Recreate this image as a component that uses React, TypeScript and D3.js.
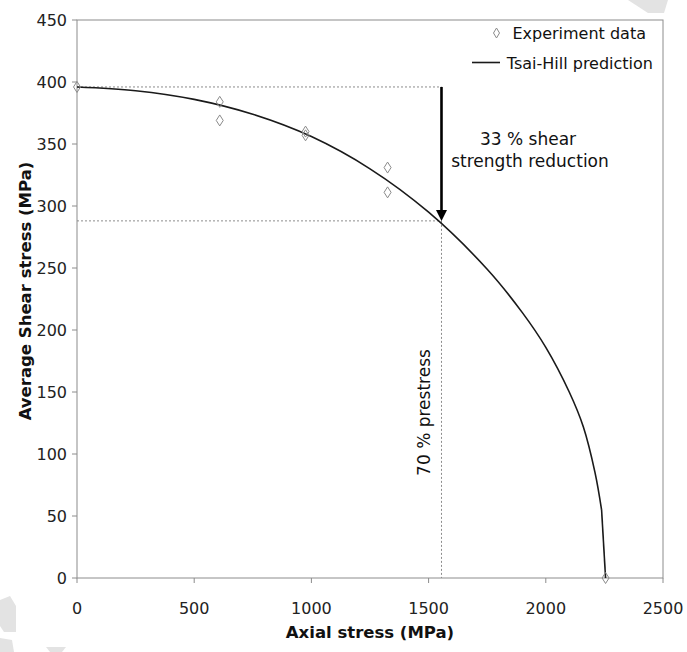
import React from "react";
import * as d3 from "d3";

// Experiment data (axial stress MPa, average shear stress MPa)
const expAxial = [0, 609, 609, 975, 975, 1325, 1325, 2255];
const expShear = [396, 384, 369, 360, 357, 331, 311, 0];

// Tsai-Hill prediction curve
const predAxial = [0, 250, 500, 750, 1000, 1250, 1500, 1750, 1900, 2000, 2100, 2160, 2210, 2238, 2255];
const predShear = [396, 393, 386, 374, 356, 330, 295, 249, 214, 186, 150, 122, 85, 55, 0];

const xTicks = [0, 500, 1000, 1500, 2000, 2500];
const yTicks = [0, 50, 100, 150, 200, 250, 300, 350, 400, 450];

const prestressAxial = 1555;
const shearTop = 396;
const shearReduced = 288;

const W = 687;
const H = 652;
const left = 77;
const right = 663;
const top = 20;
const bottom = 578;

const FONT = "'DejaVu Sans', Verdana, sans-serif";

export default function App() {
  const x = d3.scaleLinear().domain([0, 2500]).range([left, right]);
  const y = d3.scaleLinear().domain([0, 450]).range([bottom, top]);

  const pts: [number, number][] = predAxial.map((a, i) => [a, predShear[i]]);
  const smoothPts = pts.slice(0, pts.length - 1);
  const line = d3
    .line<[number, number]>()
    .x((d) => x(d[0]))
    .y((d) => y(d[1]))
    .curve(d3.curveCatmullRom.alpha(0.5));
  const tail = d3
    .line<[number, number]>()
    .x((d) => x(d[0]))
    .y((d) => y(d[1]));

  const diamond = (cx: number, cy: number, hw = 3.5, hh = 5.5) =>
    `M${cx},${cy - hh}L${cx + hw},${cy}L${cx},${cy + hh}L${cx - hw},${cy}Z`;

  const axisColor = "#8c8c8c";
  const ax = x(prestressAxial);

  return (
    <svg
      width={W}
      height={H}
      style={{ position: "absolute", left: 0, top: 0, background: "#fff" }}
      fontFamily={FONT}
    >
      <rect x={0} y={0} width={W} height={H} fill="#fff" />
      {/* watermark fragments */}
      <g fill="#e3e3e3">
        <polygon points="628,0 668,0 664,13 648,13" />
        <polygon points="0,600 10,596 16,606 16,632 4,632 0,626" />
        <polygon points="0,638 12,640 14,652 0,652" />
        <polygon points="46,647 66,647 62,652 50,652" />
      </g>

      {/* plot border */}
      <rect
        x={left}
        y={top}
        width={right - left}
        height={bottom - top}
        fill="none"
        stroke={axisColor}
        strokeWidth={1}
      />

      {/* y ticks */}
      {yTicks.map((t) => (
        <g key={"y" + t}>
          <line x1={left - 5} x2={left} y1={y(t)} y2={y(t)} stroke={axisColor} />
          <text
            x={67}
            y={y(t)}
            dy="0.36em"
            textAnchor="end"
            fontSize={16}
            fill="#222"
          >
            {t}
          </text>
        </g>
      ))}
      {/* x ticks */}
      {xTicks.map((t) => (
        <g key={"x" + t}>
          <line x1={x(t)} x2={x(t)} y1={bottom} y2={bottom + 5} stroke={axisColor} />
          <text x={x(t)} y={614} textAnchor="middle" fontSize={16} fill="#222">
            {t}
          </text>
        </g>
      ))}

      {/* axis titles */}
      <text
        x={(left + right) / 2}
        y={638}
        textAnchor="middle"
        fontSize={16.5}
        fontWeight="bold"
        fill="#111"
      >
        Axial stress (MPa)
      </text>
      <text
        transform={`translate(31,${(top + bottom) / 2 - 8}) rotate(-90)`}
        textAnchor="middle"
        fontSize={16.5}
        fontWeight="bold"
        fill="#111"
      >
        Average Shear stress (MPa)
      </text>

      {/* dotted guide lines */}
      <g stroke="#8c8c8c" strokeWidth={1} strokeDasharray="2,2" fill="none">
        <line x1={left} x2={ax} y1={y(shearTop)} y2={y(shearTop)} />
        <line x1={left} x2={ax} y1={y(shearReduced)} y2={y(shearReduced)} />
        <line x1={ax} x2={ax} y1={y(shearReduced)} y2={y(0)} />
      </g>

      {/* prediction curve */}
      <path d={line(smoothPts) || ""} fill="none" stroke="#1a1a1a" strokeWidth={1.6} />
      <path d={tail(pts.slice(pts.length - 2)) || ""} fill="none" stroke="#1a1a1a" strokeWidth={1.6} />

      {/* experiment data */}
      {expAxial.map((a, i) => (
        <path
          key={"e" + i}
          d={diamond(x(a), y(expShear[i]))}
          fill="#fff"
          fillOpacity={0}
          stroke="#8a8a8a"
          strokeWidth={1}
        />
      ))}

      {/* arrow */}
      <line
        x1={ax}
        x2={ax}
        y1={y(shearTop)}
        y2={y(shearReduced) - 8}
        stroke="#000"
        strokeWidth={2.6}
      />
      <path
        d={`M${ax - 5.5},${y(shearReduced) - 11}L${ax + 5.5},${y(shearReduced) - 11}L${ax},${y(shearReduced)}Z`}
        fill="#000"
      />

      {/* annotations */}
      <text x={528} y={145} textAnchor="middle" fontSize={17} fill="#111">
        33 % shear
      </text>
      <text x={530} y={166.5} textAnchor="middle" fontSize={17} fill="#111">
        strength reduction
      </text>
      <text
        transform={`translate(430,412.5) rotate(-90)`}
        textAnchor="middle"
        fontSize={17}
        fill="#111"
      >
        70 % prestress
      </text>

      {/* legend */}
      <path d={diamond(496.5, 33, 3, 5)} fill="none" stroke="#8a8a8a" strokeWidth={1} />
      <text x={646} y={38.5} textAnchor="end" fontSize={16} fill="#111">
        Experiment data
      </text>
      <line x1={472} x2={500} y1={62.5} y2={62.5} stroke="#1a1a1a" strokeWidth={1.6} />
      <text x={653} y={68.5} textAnchor="end" fontSize={16} fill="#111">
        Tsai-Hill prediction
      </text>
    </svg>
  );
}
